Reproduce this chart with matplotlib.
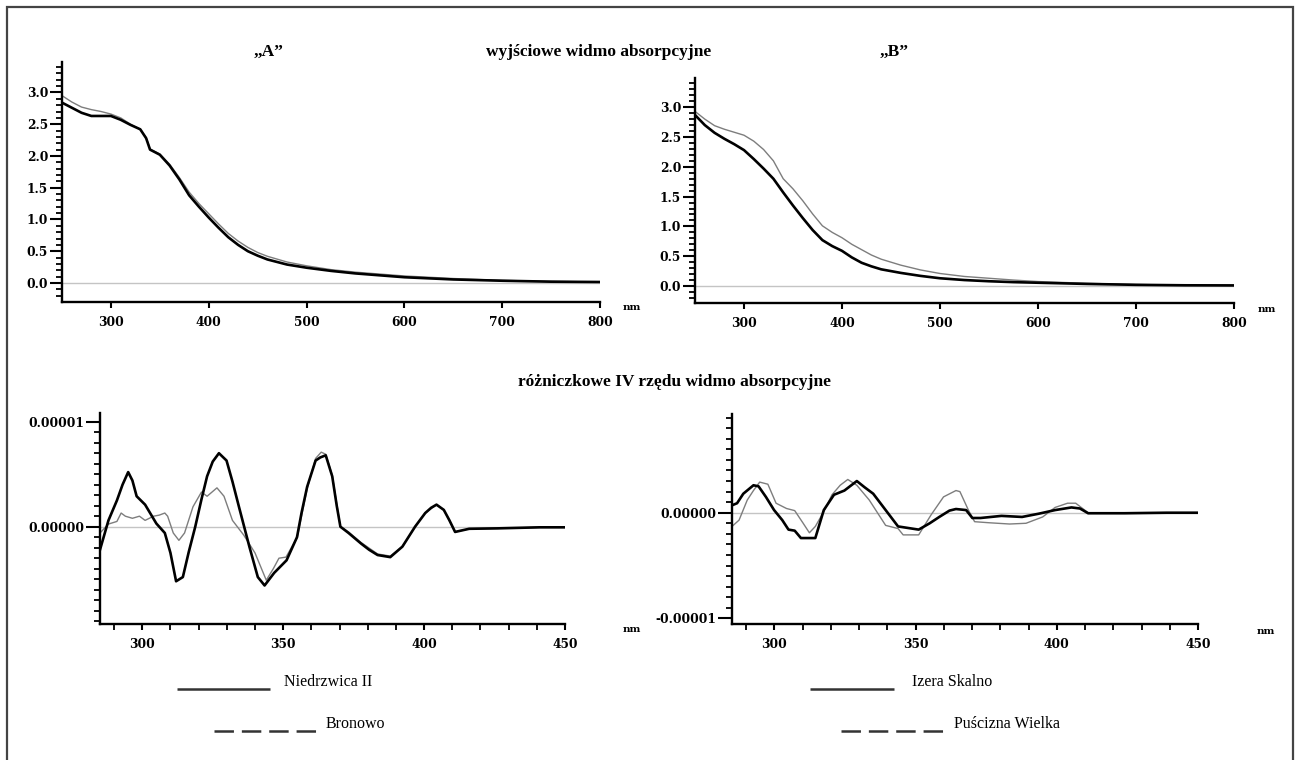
import numpy as np
import matplotlib
matplotlib.use("Agg")
import matplotlib.pyplot as plt
from matplotlib.lines import Line2D
from matplotlib.patches import Rectangle
from matplotlib.ticker import FixedLocator, FuncFormatter

# ---------------- data ----------------
# "A": initial absorption spectra (left)
wl_A = [250, 260, 270, 280, 290, 300, 310, 320, 330, 336, 340, 350, 360, 370, 380,
        390, 400, 410, 420, 430, 440, 450, 460, 480, 500, 525, 550, 575, 600, 650,
        700, 750, 800]
abs_A_black = [2.84, 2.76, 2.68, 2.63, 2.63, 2.63, 2.57, 2.49, 2.42, 2.28, 2.10, 2.02,
               1.85, 1.63, 1.38, 1.20, 1.03, 0.87, 0.72, 0.60, 0.50, 0.43, 0.37, 0.29,
               0.24, 0.19, 0.15, 0.12, 0.09, 0.055, 0.035, 0.02, 0.015]
abs_A_gray = [2.95, 2.85, 2.77, 2.73, 2.70, 2.66, 2.60, 2.50, 2.42, 2.29, 2.11, 2.03,
              1.87, 1.66, 1.43, 1.25, 1.09, 0.93, 0.78, 0.66, 0.56, 0.48, 0.42, 0.33,
              0.27, 0.21, 0.17, 0.14, 0.11, 0.07, 0.04, 0.025, 0.015]

# "B": initial absorption spectra (right)
wl_B = [250, 260, 270, 280, 290, 300, 310, 320, 330, 340, 350, 360, 370, 380, 390,
        400, 410, 420, 430, 440, 450, 460, 480, 500, 525, 550, 575, 600, 650, 700,
        750, 800]
abs_B_black = [2.87, 2.70, 2.57, 2.47, 2.38, 2.28, 2.13, 1.97, 1.80, 1.57, 1.35, 1.14,
               0.94, 0.77, 0.67, 0.59, 0.48, 0.39, 0.33, 0.28, 0.25, 0.22, 0.17, 0.13,
               0.10, 0.08, 0.065, 0.055, 0.035, 0.02, 0.012, 0.01]
abs_B_gray = [2.93, 2.80, 2.69, 2.63, 2.58, 2.53, 2.43, 2.29, 2.10, 1.80, 1.63, 1.43,
              1.21, 1.01, 0.90, 0.81, 0.70, 0.61, 0.52, 0.45, 0.40, 0.35, 0.27, 0.21,
              0.16, 0.13, 0.10, 0.075, 0.045, 0.025, 0.015, 0.01]

# 4th-order derivative spectra, values in units of 1e-6
wl_d4_niedrzwica = [285, 288, 291, 293, 295, 296.5, 298, 301, 305, 308, 310, 312, 314.4,
                    316.5, 318.8, 321, 323, 325, 327.2, 329.9, 332, 334.3, 338, 341,
                    343.4, 346.8, 351.2, 354.9, 356.5, 358.5, 361.5, 363.2, 365.1,
                    367.4, 369, 370.3, 373.2, 377.6, 380.5, 383.5, 388, 392.3, 396.8,
                    400.4, 402.5, 404.4, 407, 409, 411, 416, 426, 441, 450]
d4_niedrzwica = [-2.2, 0.6, 2.5, 4.0, 5.2, 4.4, 2.9, 2.1, 0.3, -0.6, -2.5, -5.2, -4.8,
                 -2.4, 0.0, 2.6, 4.8, 6.2, 7.0, 6.3, 4.3, 1.9, -1.9, -4.8,
                 -5.6, -4.4, -3.2, -1.0, 1.3, 3.8, 6.3, 6.6, 6.8,
                 4.8, 2.0, 0.0, -0.6, -1.6, -2.2, -2.7, -2.9, -1.9, 0.0,
                 1.3, 1.8, 2.1, 1.6, 0.6, -0.5, -0.2, -0.16, -0.06, -0.06]

wl_d4_bronowo = [285, 288, 291, 292.5, 294, 296.5, 299, 301, 304, 306, 308, 309, 311,
                 313, 315, 318, 321, 323, 326.5, 329, 332, 336, 340, 344, 346.5, 348.5,
                 351, 355, 358.5, 361.5, 363.5, 365.1, 367.4, 370.3, 373.2, 377.6,
                 383.5, 388, 392.3, 396.8, 400.4, 404.4, 407, 411, 416, 426, 441, 450]
d4_bronowo = [-0.6, 0.25, 0.5, 1.3, 1.0, 0.8, 1.0, 0.6, 1.0, 1.1, 1.3, 1.0, -0.6,
              -1.3, -0.6, 1.9, 3.3, 2.9, 3.7, 2.9, 0.6, -0.8, -2.5, -5.1, -4.0, -3.0,
              -2.9, -1.0, 3.6, 6.5, 7.1, 6.9, 4.9, 0.0, -0.5, -1.5,
              -2.6, -2.8, -1.9, 0.0, 1.3, 2.1, 1.6, -0.5, -0.2, -0.16, -0.06, -0.06]

wl_d4_izera = [285, 286.8, 289, 292.6, 294.4, 297, 299.9, 302.8, 305, 307.2, 309.4,
               312.4, 314.5, 317.5, 321.1, 324.8, 329.2, 332, 335, 339.4, 343.8, 351.1,
               355, 358.4, 362, 364.3, 367.9, 370.1, 373, 380.4, 387.7, 393.5, 399.4,
               405.2, 408.2, 411.1, 424, 438.9, 450]
d4_izera = [0.7, 0.9, 1.8, 2.6, 2.5, 1.5, 0.25, -0.7, -1.6, -1.7, -2.4,
            -2.4, -2.4, 0.25, 1.7, 2.1, 3.0, 2.4, 1.8, 0.25, -1.3, -1.6,
            -1.0, -0.4, 0.2, 0.35, 0.25, -0.5, -0.5, -0.3, -0.4, -0.1, 0.25,
            0.5, 0.4, -0.05, -0.05, 0.0, 0.0]

wl_d4_puscizna = [285, 287.5, 290.4, 292.6, 294.8, 297.7, 300.6, 304.3, 307.2, 310.2,
                  312.4, 314.5, 317.5, 320.4, 323.3, 326, 329.2, 333.6, 339.4, 343.8,
                  345.6, 351.1, 355.5, 359.9, 364.3, 365.7, 368.7, 370.9, 376, 383.3,
                  389.1, 395, 399.4, 403.8, 406.7, 411.1, 425, 440, 450]
d4_puscizna = [-1.3, -0.7, 1.2, 2.1, 2.9, 2.7, 0.9, 0.4, 0.2, -1.0,
               -1.9, -1.3, 0.1, 1.7, 2.6, 3.15, 2.6, 1.2, -1.2, -1.5,
               -2.1, -2.1, -0.2, 1.5, 2.1, 2.0, 0.25, -0.85, -0.95, -1.07,
               -1.0, -0.4, 0.5, 0.9, 0.9, 0.0, 0.0, 0.0, 0.0]

top_xticks = [300, 400, 500, 600, 700, 800]
top_yticks = [0.0, 0.5, 1.0, 1.5, 2.0, 2.5, 3.0]
bot_xticks = [300, 350, 400, 450]
botL_yticks = [0.0, 0.00001]
botR_yticks = [-0.00001, 0.0]

title_top = "wyjściowe widmo absorpcyjne"
title_bot = "różniczkowe IV rzędu widmo absorpcyjne"
label_A = "\u201eA\u201d"
label_B = "\u201eB\u201d"
legend_left = ["Niedrzwica II", "Bronowo"]
legend_right = ["Izera Skalno", "Puścizna Wielka"]

# ---------------- layout ----------------
W, H = 1299, 760
plt.rcParams['lines.scale_dashes'] = False
fig = plt.figure(figsize=(W / 100, H / 100), dpi=100)
fig.patch.set_facecolor('white')


def box(l, t, r, b):
    return [l / W, 1 - b / H, (r - l) / W, (b - t) / H]


def fx(x):
    return x / W


def fy(y):
    return 1 - y / H


TICKFONT = dict(family='DejaVu Serif', weight='bold', size=8.8)
BLACK_LW = 1.9
GRAY_LW = 1.0
GRAY = '#7d7d7d'
ZERO = '#c4c4c4'


def style_axes(ax):
    for s in ['top', 'right']:
        ax.spines[s].set_visible(False)
    for s in ['left', 'bottom']:
        ax.spines[s].set_linewidth(1.7)
        ax.spines[s].set_color('black')
    ax.patch.set_alpha(0)
    for lab in ax.get_xticklabels() + ax.get_yticklabels():
        lab.set_fontfamily(TICKFONT['family'])
        lab.set_fontweight(TICKFONT['weight'])
        lab.set_fontsize(TICKFONT['size'])


def top_axes(rect, xs, yb, yg, ylim):
    ax = fig.add_axes(rect)
    ax.axhline(0, color=ZERO, lw=1.0, zorder=1)
    ax.plot(xs, yg, color=GRAY, lw=GRAY_LW, zorder=2)
    ax.plot(xs, yb, color='black', lw=BLACK_LW, zorder=3)
    ax.set_xlim(250, 800)
    ax.set_ylim(*ylim)
    ax.xaxis.set_major_locator(FixedLocator(top_xticks))
    ax.yaxis.set_major_locator(FixedLocator(top_yticks))
    ax.yaxis.set_minor_locator(FixedLocator(np.round(np.arange(-0.2, 3.45, 0.1), 2)))
    ax.yaxis.set_major_formatter(FuncFormatter(lambda v, p: f"{v:.1f}"))
    ax.tick_params(axis='x', which='major', direction='out', length=4, width=1.5, pad=6)
    ax.tick_params(axis='y', which='major', direction='out', length=9, width=1.5, pad=1)
    ax.tick_params(axis='y', which='minor', direction='out', length=4.5, width=1.3)
    style_axes(ax)
    return ax


def fmt5(v, p):
    if abs(v) < 1e-12:
        return "0.00000"
    return f"{v:.5f}"


def bot_axes(rect, series, ylim, yticks):
    ax = fig.add_axes(rect)
    ax.axhline(0, color=ZERO, lw=1.0, zorder=1)
    (xg, yg), (xb, yb) = series
    ax.plot(xg, np.array(yg) * 1e-6, color=GRAY, lw=GRAY_LW, zorder=2)
    ax.plot(xb, np.array(yb) * 1e-6, color='black', lw=BLACK_LW, zorder=3,
            solid_joinstyle='round')
    ax.set_xlim(285, 450)
    ax.set_ylim(*ylim)
    ax.xaxis.set_major_locator(FixedLocator(bot_xticks))
    ax.xaxis.set_minor_locator(FixedLocator([290, 310, 320, 330, 340, 360, 370, 380,
                                             390, 410, 420, 430, 440]))
    ax.yaxis.set_major_locator(FixedLocator(yticks))
    ax.yaxis.set_minor_locator(FixedLocator(np.arange(-10, 11) * 1e-6))
    ax.yaxis.set_major_formatter(FuncFormatter(fmt5))
    ax.tick_params(axis='x', which='major', direction='out', length=4, width=1.5, pad=6)
    ax.tick_params(axis='x', which='minor', direction='out', length=4, width=1.3)
    ax.tick_params(axis='y', which='major', direction='out', length=10, width=1.5, pad=1)
    ax.tick_params(axis='y', which='minor', direction='out', length=4.5, width=1.3)
    style_axes(ax)
    return ax


top_axes(box(62, 62, 600, 302), wl_A, abs_A_black, abs_A_gray, (-0.30, 3.48))
top_axes(box(695, 78, 1234, 303), wl_B, abs_B_black, abs_B_gray, (-0.285, 3.49))

bot_axes(box(100, 413, 565, 624),
         [(wl_d4_bronowo, d4_bronowo), (wl_d4_niedrzwica, d4_niedrzwica)],
         (-0.927e-5, 1.083e-5), botL_yticks)
bot_axes(box(732, 414, 1198, 624),
         [(wl_d4_puscizna, d4_puscizna), (wl_d4_izera, d4_izera)],
         (-1.054e-5, 0.935e-5), botR_yticks)

# ---------------- texts ----------------
TITLE = dict(family='Liberation Serif', weight='bold', size=12.5, ha='center', va='center')
fig.text(fx(268), fy(52), label_A, **TITLE)
fig.text(fx(599), fy(52), title_top, **TITLE)
fig.text(fx(894), fy(52), label_B, **TITLE)
fig.text(fx(674), fy(382), title_bot, **TITLE)

NM = dict(family='DejaVu Serif', weight='bold', size=7.5, ha='center', va='center')
for (x, y) in [(632, 308), (1267, 309), (632, 630), (1266, 631)]:
    fig.text(fx(x), fy(y), "nm", **NM)

LEG = dict(family='Liberation Serif', size=11.5, ha='left', va='center')
# legend lines
for (x0, x1, y, dashed) in [(177, 270, 689, False), (214, 316, 731, True),
                             (810, 894, 689, False), (841, 944, 731, True)]:
    ln = Line2D([fx(x0), fx(x1)], [fy(y), fy(y)], transform=fig.transFigure,
                color='#333333', lw=1.8, solid_capstyle='butt', dash_capstyle='butt')
    if dashed:
        ln.set_dashes((14, 5.7))
    fig.add_artist(ln)
fig.text(fx(284), fy(682), legend_left[0], **LEG)
fig.text(fx(326), fy(724), legend_left[1], **LEG)
fig.text(fx(912), fy(682), legend_right[0], **LEG)
fig.text(fx(954), fy(724), legend_right[1], **LEG)

# frame around the figure (bottom edge lies outside the picture)
fig.add_artist(Rectangle((fx(7), fy(775)), fx(1293) - fx(7), fy(7) - fy(775),
                         transform=fig.transFigure, fill=False, ec='#444444', lw=1.6))

fig.savefig("out.png", dpi=100, facecolor='white')
